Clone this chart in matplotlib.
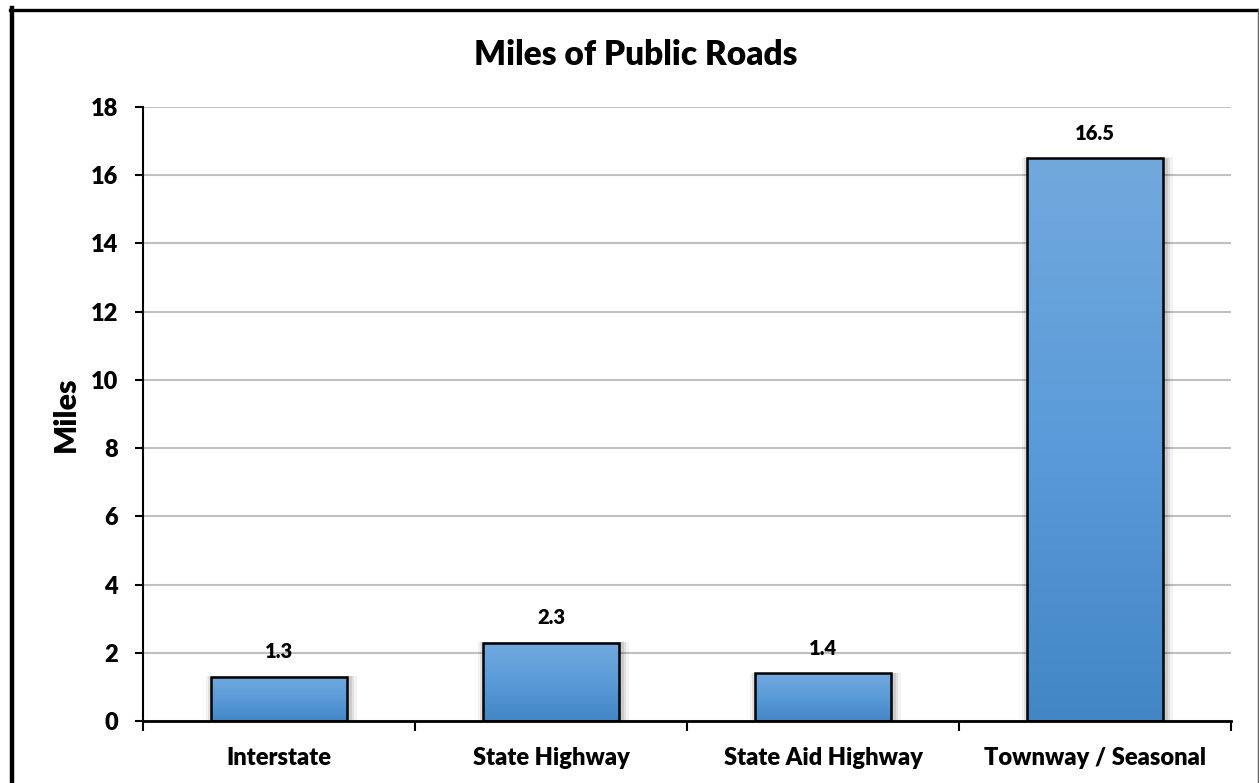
import numpy as np
import matplotlib.pyplot as plt
from matplotlib.lines import Line2D
from matplotlib.colors import LinearSegmentedColormap

plt.rcParams['font.family'] = ['Lato', 'DejaVu Sans']

categories = ["Interstate", "State Highway", "State Aid Highway", "Townway / Seasonal"]
miles = [1.3, 2.3, 1.4, 16.5]
yticks = [0, 2, 4, 6, 8, 10, 12, 14, 16, 18]

W, H = 1259, 783
fig = plt.figure(figsize=(W / 100, H / 100), dpi=100)
ax = fig.add_axes([143 / W, 1 - 721 / H, (1231 - 143) / W, (721 - 107) / H])

x = np.arange(len(categories))
bar_w = 0.5

# soft shadow around each bar, a bit heavier on the right
for grow, a in [(0.035, 0.05), (0.024, 0.07), (0.012, 0.09)]:
    ax.bar(x + 0.008, np.array(miles) + grow * 0.6, width=bar_w + grow * 1.6,
           bottom=0, color='black', alpha=a, zorder=2, linewidth=0)

bars = ax.bar(x, miles, width=bar_w, color='#5b9bd5', zorder=3, linewidth=0)

# vertical gradient fill, lighter at the top
grad = np.linspace(0, 1, 256).reshape(-1, 1)
cmap = LinearSegmentedColormap.from_list('barfill', ['#4386c6', '#5a9bd9', '#72a9dd'])
for b in bars:
    x0, y0 = b.get_x(), b.get_y()
    im = ax.imshow(grad, cmap=cmap, aspect='auto', origin='lower',
                   extent=[x0, x0 + b.get_width(), y0, y0 + b.get_height()], zorder=4)
    im.set_clip_path(b)

ax.bar(x, miles, width=bar_w, fill=False, edgecolor='black', linewidth=1.8, zorder=5)

for xi, v in zip(x, miles):
    ax.annotate(f"{v:.1f}", (xi, v), xytext=(0, 18), textcoords='offset points',
                ha='center', va='center', fontsize=14.5, fontweight=800, zorder=6)

ax.set_xlim(-0.5, len(categories) - 0.5)
ax.set_ylim(0, 18)
ax.set_yticks(yticks)
ax.set_yticklabels([str(t) for t in yticks], fontsize=17, fontweight=800)
ax.set_xticks(x)
ax.set_xticklabels(categories, fontsize=17, fontweight=800)
ax.tick_params(axis='x', which='major', length=0, pad=19)
ax.set_xticks(np.arange(len(categories) + 1) - 0.5, minor=True)
ax.tick_params(axis='x', which='minor', length=7, width=1.5, direction='out')
ax.tick_params(axis='y', length=6, width=1.5, direction='out', pad=12)

ax.grid(axis='y', color='#c0c0c0', linewidth=1.5, zorder=0)
ax.set_axisbelow(True)
for s in ['top', 'right']:
    ax.spines[s].set_visible(False)
ax.spines['left'].set_linewidth(1.5)
ax.spines['bottom'].set_linewidth(2)
ax.spines['bottom'].set_zorder(7)

ax.set_ylabel("Miles", fontsize=22, fontweight=800, labelpad=8)
fig.text(636 / W, 1 - 55 / H, "Miles of Public Roads", ha='center', va='center',
         fontsize=24, fontweight=800)

# chart frame
fig.add_artist(Line2D([12 / W, 12 / W], [0, 1 - 8 / H], color='black', linewidth=3.2))
fig.add_artist(Line2D([10 / W, 1258 / W], [1 - 9.5 / H, 1 - 9.5 / H], color='black', linewidth=2.4))
fig.add_artist(Line2D([1257.5 / W, 1257.5 / W], [0, 1 - 9 / H], color='#606060', linewidth=1))

fig.savefig("out.png", dpi=100)
